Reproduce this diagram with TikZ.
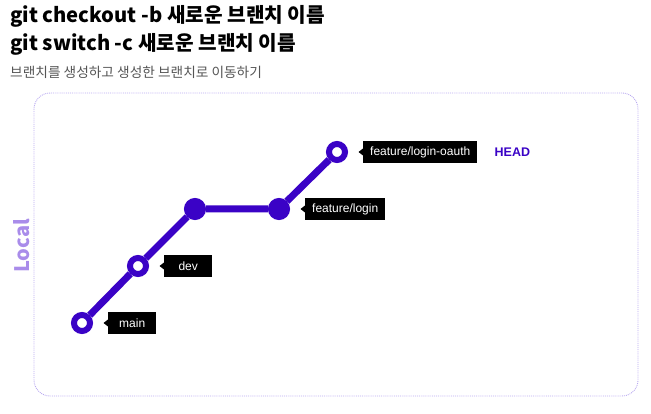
\documentclass[tikz,border=0pt]{standalone}
\usepackage{fontspec}
\setmainfont{Liberation Sans}
\newfontfamily\krfont{Noto Sans CJK KR}
\usetikzlibrary{positioning}
\definecolor{gitpurple}{HTML}{3A02C6}
\definecolor{localpurple}{HTML}{A98CEA}
\definecolor{boxline}{HTML}{B9AAF0}
\definecolor{subgray}{HTML}{555555}
\tikzset{commit/.style={circle, draw=gitpurple, line width=6pt, fill=white, minimum size=16pt, inner sep=0pt}, done/.style={commit, fill=gitpurple}, branch/.style={draw=gitpurple, line width=7pt}, tag/.style={fill=black, text=white, font=\fontsize{12}{14}\selectfont, minimum height=22pt, minimum width=48pt, inner xsep=7pt, inner ysep=0pt}, title/.style={anchor=base west, inner sep=0pt, font=\krfont\bfseries\fontsize{20.2}{24}\selectfont}}

\begin{document}
\begin{tikzpicture}[x=1pt,y=-1pt]
\useasboundingbox (0,0) rectangle (651,414);
\node[title] (t1) at (10,23) {git checkout -b 새로운 브랜치 이름};
\node[title] (t2) at (10,51) {git switch -c 새로운 브랜치 이름};
\node[anchor=base west, inner sep=0pt, text=subgray, font=\krfont\fontsize{13.7}{16}\selectfont] (sub) at (10,78) {브랜치를 생성하고 생성한 브랜치로 이동하기};
\draw[boxline, densely dotted, line width=.9pt, rounded corners=16pt] (34,93) rectangle (638,396);
\node[rotate=90, text=localpurple, font=\krfont\bfseries\fontsize{20}{24}\selectfont] (local) at (22,246) {Local};
% commits
\node[commit] (c1) at (82,323) {};
\node[commit] (c2) at (138,266) {};
\node[done] (c3) at (195,209) {};
\node[done] (c4) at (279,209) {};
\node[commit] (c5) at (337,152) {};
\draw[branch] (c1) -- (c2) -- (c3) -- (c4) -- (c5);
% branch tags
\node[tag, right=15pt of c1] (tmain) {main};
\node[tag, right=15pt of c2] (tdev) {dev};
\node[tag, right=15pt of c4] (tlogin) {feature/login};
\node[tag, right=15pt of c5] (toauth) {feature/login-oauth};
\foreach \t in {tmain,tdev,tlogin,toauth} \fill[black] (\t.west) ++(0,-3.5) -- ++(-4.5,3.5) -- ++(4.5,3.5) -- cycle;
\node[right=17pt of toauth, inner sep=0pt, text=gitpurple, font=\bfseries\fontsize{12.5}{14}\selectfont] (head) {HEAD};
\end{tikzpicture}
\end{document}
